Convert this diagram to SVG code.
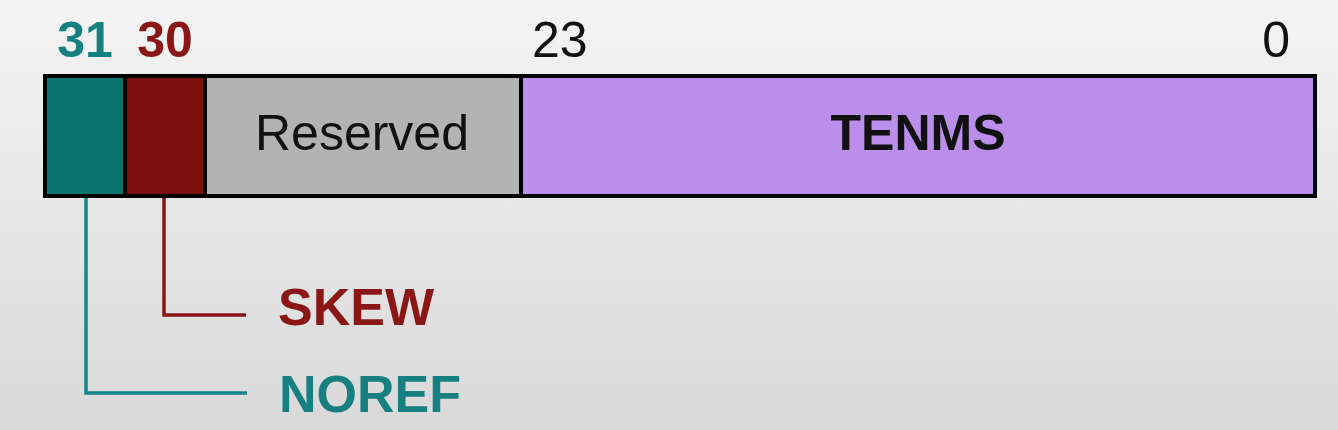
<svg xmlns="http://www.w3.org/2000/svg" width="1338" height="430" viewBox="0 0 1338 430">
<defs>
<linearGradient id="bg" x1="0" y1="0" x2="0" y2="1">
<stop offset="0" stop-color="#f4f4f4"/>
<stop offset="1" stop-color="#d9d9d9"/>
</linearGradient>
<style>
.t{font-family:"Liberation Sans",Arial,sans-serif;font-size:50px}
.b{font-weight:bold}
.lbl{font-size:52px}
.box{stroke:#000;stroke-width:4}
.conn{fill:none;stroke-width:3.5}
</style>
</defs>
<rect width="1338" height="430" fill="url(#bg)"/>
<g id="bit-labels">
<text class="t b" x="85" y="57" text-anchor="middle" fill="#148080">31</text>
<text class="t b" x="165" y="57" text-anchor="middle" fill="#8a1616">30</text>
<text class="t" x="532" y="57" fill="#111">23</text>
<text class="t" x="1290" y="57" text-anchor="end" fill="#111">0</text>
</g>
<g id="noref-field"><rect class="box" x="45" y="76" width="80" height="120" fill="#0c746f"/></g>
<g id="skew-field"><rect class="box" x="125" y="76" width="80" height="120" fill="#7a0f0b"/></g>
<g id="reserved-field"><rect class="box" x="205" y="76" width="316" height="120" fill="#b3b3b3"/>
<text class="t" x="362" y="150" text-anchor="middle" fill="#111">Reserved</text></g>
<g id="tenms-field"><rect class="box" x="521" y="76" width="794" height="120" fill="#bc8eeb"/>
<text class="t b" x="918" y="150" text-anchor="middle" fill="#111">TENMS</text></g>
<g id="connectors">
<path class="conn" stroke="#8a1616" d="M164 198 V315 H246"/>
<path class="conn" stroke="#168585" d="M86 198 V393 H247"/>
</g>
<g id="skew-label"><text class="t b lbl" x="278" y="325" fill="#8a1616">SKEW</text></g>
<g id="noref-label"><text class="t b lbl" x="279" y="412" fill="#168080">NOREF</text></g>
</svg>
